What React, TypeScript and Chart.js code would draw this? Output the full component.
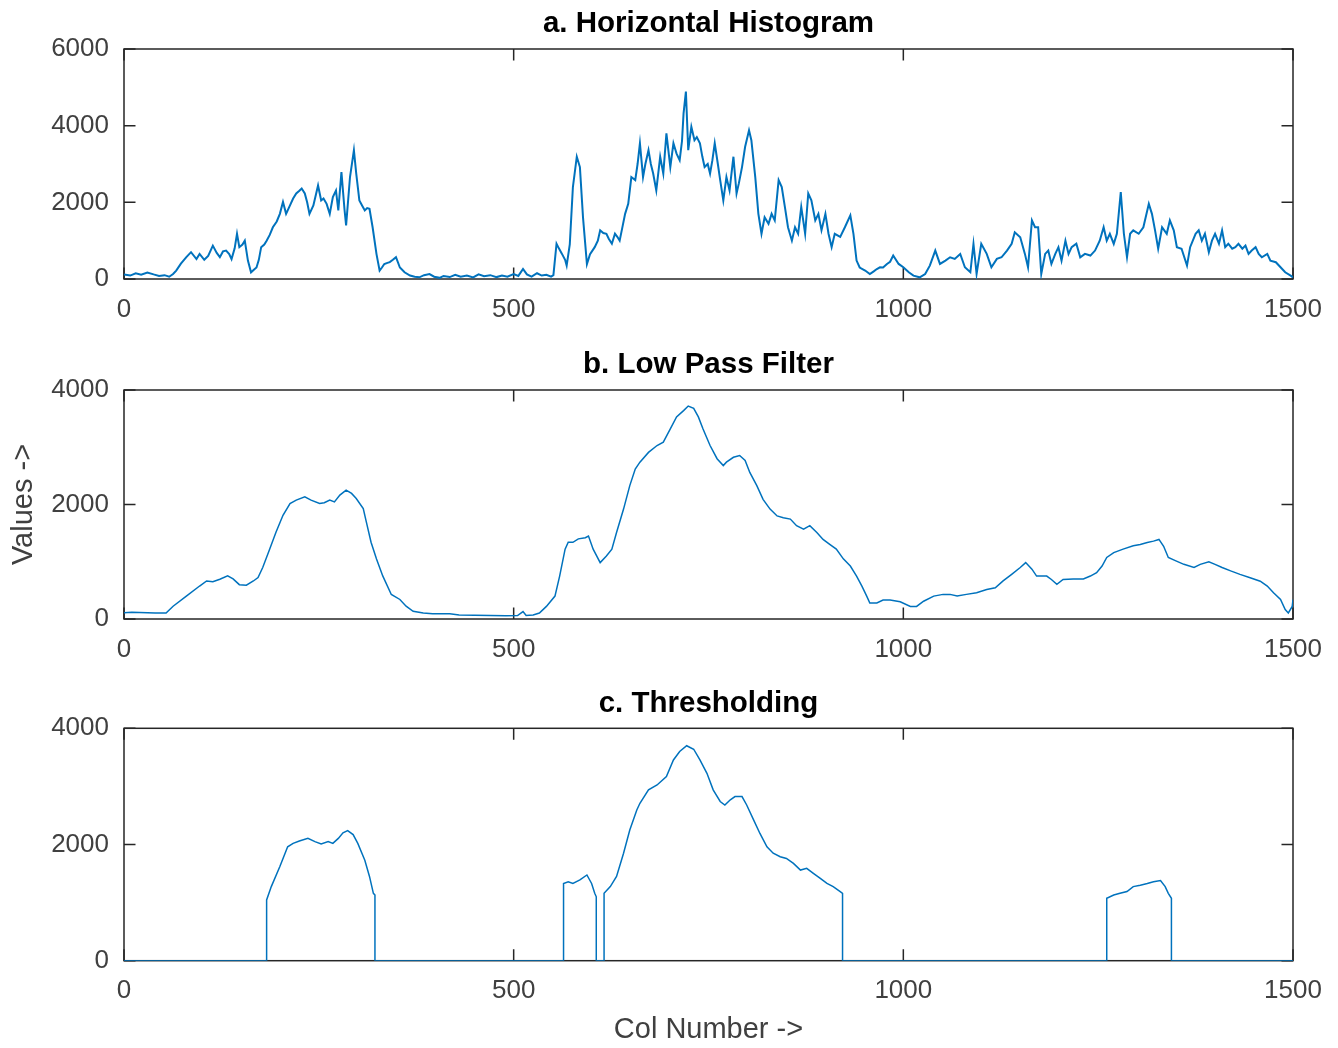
import React, { useEffect, useRef } from 'react';
import { Chart, registerables } from 'chart.js';

Chart.register(...registerables);

const FONT = '"Liberation Sans", Arial, Helvetica, sans-serif';
const LINE_COLOR = '#0072BD';
const AXIS_COLOR = '#262626';
const TEXT_COLOR = '#404040';

// Tick values
const xTicks = [0, 500, 1000, 1500];
const yTicksHist = [0, 2000, 4000, 6000];
const yTicksFiltered = [0, 2000, 4000];

// Text
const titles = ['a. Horizontal Histogram', 'b. Low Pass Filter', 'c. Thresholding'];
const yLabel = 'Values ->';
const xLabel = 'Col Number ->';

// a. Horizontal histogram: [column, value]
const histogram: [number, number][] = [
  [0, 120], [8, 90], [15, 150], [22, 110], [30, 170], [38, 120], [45, 80], [52, 100], [58, 60], [63, 130],
  [67, 220], [73, 400], [80, 570], [86, 700], [93, 520], [97, 655], [103, 500], [108, 600], [114, 870], [119, 680],
  [123, 570], [127, 720], [131, 740], [135, 650], [138, 520], [142, 800], [145, 1180], [148, 830], [152, 900], [155, 1000],
  [159, 480], [163, 175], [167, 250], [170, 300], [173, 500], [176, 830], [180, 900], [183, 1000], [187, 1150], [191, 1350],
  [196, 1500], [200, 1700], [204, 2010], [208, 1700], [213, 1920], [217, 2100], [221, 2230], [225, 2300], [228, 2360], [232, 2230],
  [235, 2000], [238, 1700], [243, 1920], [249, 2440], [253, 2050], [256, 2100], [260, 1960], [264, 1700], [268, 2140], [272, 2310],
  [275, 1790], [279, 2790], [283, 1800], [285, 1400], [290, 2660], [295, 3360], [298, 2750], [302, 2050], [306, 1900], [309, 1790],
  [312, 1850], [315, 1830], [319, 1350], [324, 650], [328, 220], [331, 300], [334, 390], [338, 420], [341, 440], [345, 500],
  [349, 570], [354, 300], [360, 175], [367, 90], [373, 60], [379, 44], [385, 100], [392, 130], [398, 60], [405, 30],
  [410, 80], [418, 50], [425, 110], [432, 60], [440, 90], [448, 40], [455, 120], [462, 70], [470, 100], [478, 50],
  [485, 90], [492, 60], [500, 130], [506, 80], [512, 260], [517, 120], [523, 60], [530, 150], [536, 90], [542, 110],
  [548, 60], [551, 100], [555, 920], [558, 800], [562, 655], [566, 500], [568, 350], [572, 900], [576, 2400], [581, 3190],
  [585, 2920], [589, 1600], [594, 390], [598, 650], [604, 830], [608, 1000], [611, 1270], [615, 1200], [619, 1180], [622, 1050],
  [626, 920], [630, 1180], [633, 1100], [636, 1000], [640, 1400], [643, 1700], [647, 1960], [651, 2660], [656, 2580], [659, 3000],
  [662, 3540], [666, 2660], [669, 3000], [673, 3360], [676, 3000], [679, 2750], [683, 2310], [688, 3190], [692, 2750], [696, 3800],
  [701, 2920], [705, 3540], [709, 3270], [713, 3100], [716, 3600], [718, 4320], [721, 4890], [724, 3360], [728, 3970], [732, 3620],
  [735, 3700], [739, 3540], [742, 3200], [745, 2920], [749, 3000], [752, 2750], [755, 3100], [758, 3540], [762, 3000], [765, 2580],
  [769, 2050], [773, 2660], [777, 2310], [782, 3190], [786, 2230], [789, 2500], [793, 2920], [797, 3450], [802, 3880], [805, 3620],
  [810, 2660], [814, 1700], [818, 1180], [822, 1610], [827, 1440], [831, 1700], [835, 1530], [840, 2580], [844, 2400], [848, 1880],
  [852, 1350], [857, 1000], [861, 1350], [865, 1180], [869, 1880], [874, 1180], [878, 2230], [882, 2050], [887, 1530], [891, 1700],
  [895, 1270], [900, 1700], [904, 1180], [908, 830], [912, 1180], [919, 1100], [925, 1350], [932, 1660], [936, 1180], [940, 480],
  [944, 300], [951, 220], [957, 130], [962, 200], [966, 260], [970, 306], [974, 300], [979, 393], [983, 450], [987, 611],
  [994, 393], [1000, 306], [1007, 175], [1013, 87], [1021, 44], [1028, 131], [1034, 349], [1041, 742], [1047, 393], [1054, 480],
  [1060, 567], [1066, 524], [1073, 655], [1079, 306], [1086, 175], [1090, 917], [1094, 131], [1100, 917], [1107, 655], [1113, 306],
  [1120, 524], [1126, 567], [1133, 742], [1139, 917], [1143, 1220], [1150, 1090], [1156, 655], [1160, 306], [1165, 1530], [1169, 1350],
  [1173, 1350], [1177, 131], [1182, 655], [1186, 742], [1190, 393], [1195, 655], [1199, 830], [1203, 480], [1208, 1000], [1212, 655],
  [1216, 830], [1222, 920], [1227, 567], [1233, 655], [1240, 611], [1246, 742], [1252, 1000], [1257, 1350], [1261, 1000], [1265, 1180],
  [1270, 917], [1274, 1180], [1279, 2270], [1283, 1180], [1287, 567], [1291, 1180], [1295, 1270], [1302, 1180], [1308, 1350], [1315, 1960],
  [1319, 1700], [1323, 1270], [1327, 790], [1332, 1350], [1338, 1180], [1342, 1530], [1347, 1270], [1351, 830], [1357, 790], [1364, 350],
  [1368, 830], [1375, 1180], [1379, 1270], [1383, 1000], [1387, 1180], [1392, 700], [1396, 1000], [1400, 1180], [1405, 920], [1409, 1270],
  [1413, 830], [1417, 920], [1422, 790], [1426, 830], [1430, 917], [1435, 790], [1439, 870], [1443, 655], [1447, 742], [1452, 830],
  [1456, 655], [1460, 567], [1467, 655], [1471, 480], [1478, 437], [1484, 306], [1490, 175], [1497, 87], [1500, 44],
];

// b. Low pass filter output: [column, value]
const lowPass: [number, number][] = [
  [0, 110], [10, 120], [20, 115], [30, 110], [40, 105], [54, 106], [63, 223], [80, 400], [97, 576], [106, 664],
  [114, 650], [123, 694], [133, 753], [140, 700], [148, 600], [157, 590], [166, 664], [172, 723], [178, 900], [187, 1223],
  [195, 1517], [204, 1811], [213, 2017], [221, 2076], [232, 2134], [240, 2076], [251, 2017], [257, 2030], [264, 2076], [270, 2046],
  [277, 2164], [285, 2252], [292, 2193], [298, 2105], [307, 1929], [311, 1693], [317, 1341], [324, 1047], [332, 753], [343, 429],
  [354, 341], [362, 223], [371, 135], [384, 106], [396, 90], [418, 90], [430, 70], [450, 65], [470, 60], [490, 55],
  [505, 60], [512, 130], [516, 60], [525, 70], [533, 105], [542, 220], [553, 400], [559, 750], [566, 1220], [570, 1340],
  [576, 1340], [583, 1400], [592, 1420], [596, 1450], [602, 1220], [611, 985], [619, 1100], [626, 1220], [632, 1510], [641, 1920],
  [649, 2330], [656, 2620], [662, 2740], [673, 2910], [684, 3030], [692, 3090], [701, 3320], [709, 3530], [718, 3640], [724, 3720],
  [731, 3680], [737, 3530], [743, 3320], [752, 3030], [761, 2800], [769, 2680], [773, 2740], [782, 2825], [790, 2855], [797, 2770],
  [803, 2560], [812, 2330], [820, 2090], [829, 1920], [838, 1800], [846, 1770], [855, 1745], [863, 1630], [872, 1570], [880, 1630],
  [889, 1510], [897, 1390], [906, 1300], [914, 1220], [923, 1050], [932, 925], [940, 750], [947, 570], [953, 400], [957, 280],
  [966, 280], [974, 330], [983, 330], [996, 300], [1009, 220], [1017, 220], [1026, 310], [1039, 400], [1051, 430], [1060, 430],
  [1069, 400], [1081, 430], [1094, 460], [1107, 515], [1118, 545], [1128, 665], [1139, 780], [1150, 900], [1157, 985], [1165, 870],
  [1171, 750], [1184, 750], [1190, 690], [1197, 605], [1205, 690], [1218, 700], [1231, 700], [1240, 750], [1248, 810], [1255, 925],
  [1261, 1075], [1270, 1160], [1282, 1220], [1295, 1280], [1304, 1300], [1313, 1335], [1321, 1360], [1328, 1390], [1334, 1270], [1340, 1075],
  [1349, 1020], [1360, 955], [1373, 900], [1381, 955], [1392, 1000], [1400, 955], [1409, 900], [1420, 840], [1432, 780], [1445, 720],
  [1458, 660], [1467, 575], [1475, 460], [1484, 340], [1490, 165], [1494, 105], [1499, 220], [1500, 340],
];

// c. Thresholded output: [column, value]
const thresholded: [number, number][] = [
  [0, 0], [183, 0], [183, 1045], [189, 1275], [200, 1620], [210, 1960], [217, 2020], [225, 2060], [236, 2105], [245, 2050],
  [253, 2010], [262, 2050], [268, 2020], [275, 2105], [281, 2200], [287, 2240], [294, 2170], [300, 2020], [309, 1730], [315, 1450],
  [320, 1160], [322, 1130], [322, 0], [564, 0], [564, 1330], [570, 1360], [576, 1330], [585, 1390], [594, 1475], [600, 1330],
  [604, 1160], [606, 1100], [606, 0], [616, 0], [616, 1160], [624, 1275], [632, 1450], [641, 1850], [649, 2250], [658, 2595],
  [662, 2710], [673, 2940], [684, 3025], [696, 3170], [705, 3455], [713, 3600], [722, 3700], [731, 3640], [739, 3455], [748, 3225],
  [756, 2940], [765, 2740], [771, 2680], [778, 2770], [784, 2825], [793, 2825], [799, 2680], [808, 2420], [816, 2190], [825, 1960],
  [833, 1850], [842, 1790], [850, 1760], [859, 1675], [868, 1560], [876, 1590], [885, 1500], [893, 1420], [902, 1330], [910, 1275],
  [919, 1190], [922, 1160], [922, 0], [1261, 0], [1261, 1075], [1270, 1130], [1278, 1160], [1287, 1190], [1295, 1275], [1304, 1300],
  [1313, 1330], [1321, 1360], [1330, 1380], [1336, 1275], [1340, 1160], [1344, 1075], [1344, 0], [1500, 0],
];

const TICK_LEN = 11.5;

const matlabAxesPlugin = {
  id: 'matlabAxes',
  beforeDatasetsDraw(chart: any) {
    const { ctx, chartArea } = chart;
    const { left, right, top, bottom } = chartArea;
    const xs = chart.scales.x;
    const ys = chart.scales.y;
    ctx.save();
    ctx.strokeStyle = AXIS_COLOR;
    ctx.lineWidth = 1.5;
    ctx.strokeRect(left, top, right - left, bottom - top);
    ctx.beginPath();
    xs.ticks.forEach((t: any) => {
      const px = xs.getPixelForValue(t.value);
      ctx.moveTo(px, bottom);
      ctx.lineTo(px, bottom - TICK_LEN);
      ctx.moveTo(px, top);
      ctx.lineTo(px, top + TICK_LEN);
    });
    ys.ticks.forEach((t: any) => {
      const py = ys.getPixelForValue(t.value);
      ctx.moveTo(left, py);
      ctx.lineTo(left + TICK_LEN, py);
      ctx.moveTo(right, py);
      ctx.lineTo(right - TICK_LEN, py);
    });
    ctx.stroke();
    ctx.restore();
  },
};

type PanelProps = {
  points: [number, number][];
  yMax: number;
  yTicks: number[];
  title: string;
  titlePad: { top: number; bottom: number };
  xHeight: number;
  lineWidth: number;
  showYLabel?: boolean;
  showXLabel?: boolean;
};

function makeConfig(p: PanelProps): any {
  return {
    type: 'line',
    data: {
      datasets: [
        {
          data: p.points.map(([c, v]) => ({ x: c, y: v })),
          borderColor: LINE_COLOR,
          borderWidth: p.lineWidth,
          pointRadius: 0,
          tension: 0,
          fill: false,
        },
      ],
    },
    options: {
      animation: false,
      responsive: false,
      devicePixelRatio: 1,
      layout: { padding: { left: 0, right: 45, top: 0, bottom: 0 } },
      plugins: {
        legend: { display: false },
        tooltip: { enabled: false },
        title: {
          display: true,
          fullSize: false,
          text: p.title,
          color: '#000000',
          font: { family: FONT, size: 29.5, weight: 'bold' },
          padding: p.titlePad,
        },
      },
      scales: {
        x: {
          type: 'linear',
          min: 0,
          max: 1500,
          afterBuildTicks: (s: any) => {
            s.ticks = xTicks.map((v) => ({ value: v }));
          },
          ticks: {
            color: TEXT_COLOR,
            font: { family: FONT, size: 26 },
            padding: 15,
            maxRotation: 0,
            autoSkip: false,
            callback: (v: any) => String(v),
          },
          grid: { display: false, drawTicks: false },
          border: { display: false },
          title: p.showXLabel
            ? {
                display: true,
                text: xLabel,
                color: TEXT_COLOR,
                font: { family: FONT, size: 29 },
                padding: { top: 0, bottom: 1 },
              }
            : { display: false },
          afterFit: (s: any) => {
            s.height = p.xHeight;
          },
        },
        y: {
          type: 'linear',
          min: 0,
          max: p.yMax,
          afterBuildTicks: (s: any) => {
            s.ticks = p.yTicks.map((v) => ({ value: v }));
          },
          ticks: {
            color: TEXT_COLOR,
            font: { family: FONT, size: 26 },
            padding: 15,
            autoSkip: false,
            callback: (v: any) => String(v),
          },
          grid: { display: false, drawTicks: false },
          border: { display: false },
          title: p.showYLabel
            ? {
                display: true,
                text: yLabel,
                color: TEXT_COLOR,
                font: { family: FONT, size: 29 },
                padding: { top: 7, bottom: 0 },
              }
            : { display: false },
          afterFit: (s: any) => {
            s.width = 124;
          },
        },
      },
    },
    plugins: [matlabAxesPlugin],
  };
}

function Panel({ top, height, props }: { top: number; height: number; props: PanelProps }) {
  const ref = useRef<HTMLCanvasElement>(null);
  useEffect(() => {
    if (!ref.current) return;
    const chart = new Chart(ref.current, makeConfig(props));
    return () => chart.destroy();
  }, []);
  return (
    <canvas
      ref={ref}
      width={1338}
      height={height}
      style={{ position: 'absolute', left: 0, top, width: 1338, height }}
    />
  );
}

export default function App() {
  return (
    <div
      style={{
        position: 'absolute',
        left: 0,
        top: 0,
        width: 1338,
        height: 1048,
        background: '#ffffff',
        overflow: 'hidden',
      }}
    >
      <Panel
        top={0}
        height={335}
        props={{
          points: histogram,
          yMax: 6000,
          yTicks: yTicksHist,
          title: titles[0],
          titlePad: { top: 6.2, bottom: 7.4 },
          xHeight: 56,
          lineWidth: 2,
        }}
      />
      <Panel
        top={335}
        height={340}
        props={{
          points: lowPass,
          yMax: 4000,
          yTicks: yTicksFiltered,
          title: titles[1],
          titlePad: { top: 12.2, bottom: 7.4 },
          xHeight: 56,
          lineWidth: 1.5,
          showYLabel: true,
        }}
      />
      <Panel
        top={675}
        height={373}
        props={{
          points: thresholded,
          yMax: 4000,
          yTicks: yTicksFiltered,
          title: titles[2],
          titlePad: { top: 11.2, bottom: 6.7 },
          xHeight: 87.3,
          lineWidth: 1.5,
          showXLabel: true,
        }}
      />
    </div>
  );
}
